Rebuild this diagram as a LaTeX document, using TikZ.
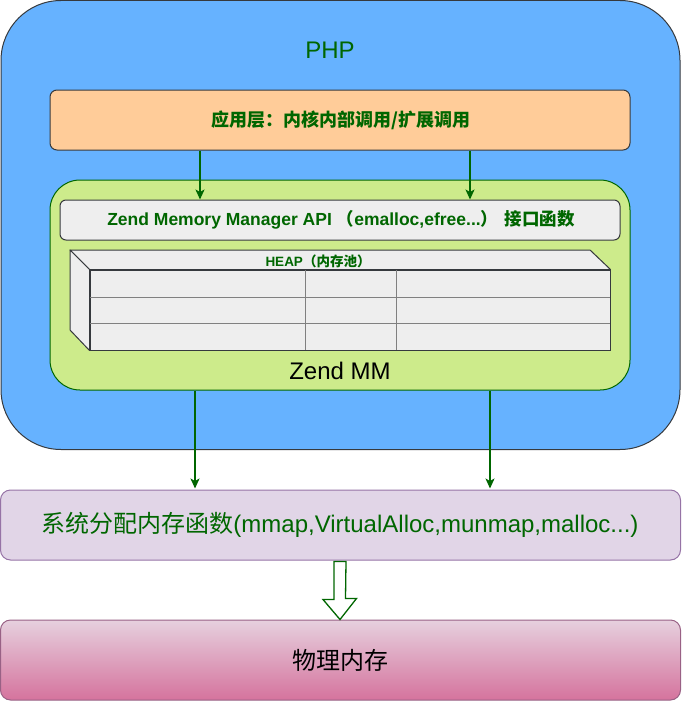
\documentclass[tikz,border=0pt]{standalone}
\usepackage{fontspec}
\setmainfont{Liberation Sans}
\newfontfamily\cjk{Noto Sans CJK SC}
\newcommand{\zh}[1]{{\cjk #1}}
\usetikzlibrary{arrows.meta,calc}
\definecolor{phpblue}{HTML}{66B2FF}
\definecolor{darkstroke}{HTML}{36393D}
\definecolor{appfill}{HTML}{FFCC99}
\definecolor{zmmfill}{HTML}{CDEB8B}
\definecolor{zgreen}{HTML}{006600}
\definecolor{apifill}{HTML}{EEEEEE}
\definecolor{sysfill}{HTML}{E1D5E7}
\definecolor{sysstroke}{HTML}{9673A6}
\definecolor{phystop}{HTML}{E6D0DE}
\definecolor{physbot}{HTML}{D5739D}
\definecolor{physstroke}{HTML}{996185}
\definecolor{gridgray}{HTML}{808080}
\tikzset{
  box/.style={draw, rectangle, inner sep=0pt, line width=1pt},
  lbl/.style={inner sep=0pt, text=zgreen},
  conn/.style={draw=zgreen, line width=1.4pt, -{Stealth[length=10pt,width=9pt,inset=2.5pt]}},
}
\begin{document}
\begin{tikzpicture}[x=1pt,y=-1pt]
\useasboundingbox (0,0) rectangle (681,701);
% PHP container
\node[box, draw=darkstroke, fill=phpblue, rounded corners=60pt,
      minimum width=679pt, minimum height=449pt] (php) at (340.5,225) {};
\node[lbl, font=\fontsize{24}{28}\selectfont] (phplbl) at (330,50) {PHP};
% application layer
\node[box, draw=darkstroke, fill=appfill, rounded corners=7pt,
      minimum width=580pt, minimum height=60pt] (app) at (340,120) {};
\node[lbl, font=\fontsize{18}{22}\selectfont\bfseries] (applbl) at (341,120) {\zh{应用层：内核内部调用/扩展调用}};
% Zend MM
\node[box, draw=zgreen, fill=zmmfill, rounded corners=30pt,
      minimum width=580pt, minimum height=210pt] (zmm) at (340,285) {};
\node[inner sep=0pt, font=\fontsize{24}{28}\selectfont] (zmmlbl) at (340,371) {Zend MM};
% API box
\node[box, draw=darkstroke, fill=apifill, rounded corners=6pt,
      minimum width=560pt, minimum height=40pt] (api) at (340,220) {};
\node[lbl, font=\fontsize{17.5}{22}\selectfont\bfseries] (apilbl) at (341,220)
  {Zend Memory Manager API \zh{（}emalloc,efree...\zh{）} \zh{接口函数}};
% HEAP cube
\node[box, draw=darkstroke, fill=apifill, minimum width=520pt, minimum height=80pt] (heap) at (350,310) {};
\filldraw[draw=darkstroke, fill=apifill, line width=1pt, line join=round]
  (70,250) -- (590,250) -- (heap.north east) -- (heap.north west) -- cycle;
\filldraw[draw=darkstroke, fill=apifill, line width=1pt, line join=round]
  (70,250) -- (heap.north west) -- (heap.south west) -- (70,330) -- cycle;
\draw[gridgray, line width=1pt] (90,297) -- (610,297) (90,323) -- (610,323)
  (305,270) -- (305,350) (396,270) -- (396,350);
\draw[darkstroke, line width=1pt] (heap.north west) rectangle (heap.south east);
\node[lbl, font=\fontsize{13.5}{16}\selectfont\bfseries] (heaplbl) at (318,261) {HEAP\zh{（内存池）}};
% system allocation
\node[box, draw=sysstroke, fill=sysfill, rounded corners=10pt,
      minimum width=680pt, minimum height=70pt] (sys) at (340.5,525) {};
\node[lbl, font=\fontsize{24}{28}\selectfont] (syslbl) at (340,525)
  {\zh{系统分配内存函数}(mmap,VirtualAlloc,munmap,malloc...)};
% physical memory
\node[box, draw=physstroke, top color=phystop, bottom color=physbot, rounded corners=10pt,
      minimum width=680pt, minimum height=80pt] (phys) at (340.5,660) {};
\node[inner sep=0pt, font=\fontsize{24}{28}\selectfont] (physlbl) at (340,660) {\zh{物理内存}};
% connectors
\coordinate (xa) at (200,0);
\coordinate (xb) at (470,0);
\coordinate (xc) at (195,0);
\coordinate (xd) at (490,0);
\draw[conn] (app.south -| xa) -- (api.north -| xa);
\draw[conn] (app.south -| xb) -- (api.north -| xb);
\draw[conn] (zmm.south -| xc) -- ($(sys.north -| xc)+(0,-1)$);
\draw[conn] (zmm.south -| xd) -- ($(sys.north -| xd)+(0,-1)$);
% block arrow
\coordinate (ba) at (340,0);
\filldraw[draw=zgreen, fill=white, line width=1.3pt, line join=miter]
  ($(sys.south -| ba)+(-6,1)$) -- ++(0,38) -- ++(-11,0) -- (phys.north -| ba)
  -- ++(16.5,-21) -- ++(-11,0) -- ($(sys.south -| ba)+(6,1)$) -- cycle;
\end{tikzpicture}
\end{document}
